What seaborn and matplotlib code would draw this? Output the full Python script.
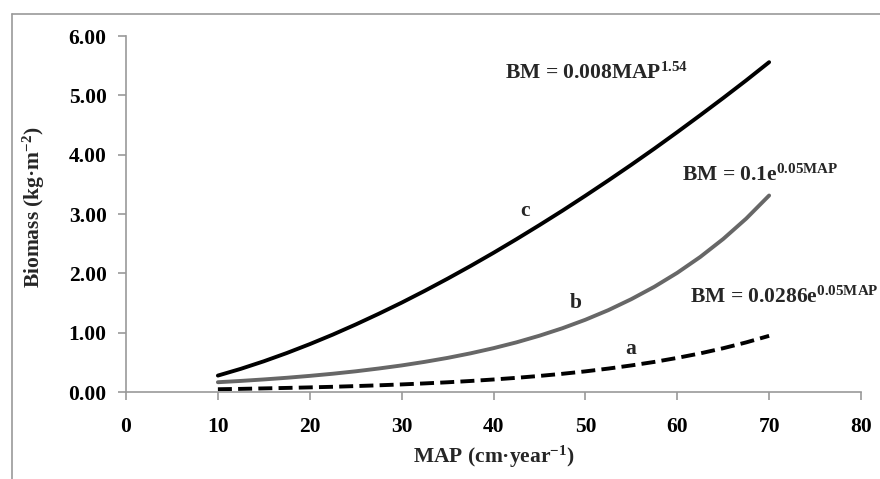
import matplotlib
matplotlib.use("Agg")
import matplotlib.pyplot as plt
import seaborn as sns
import pandas as pd
from matplotlib.lines import Line2D

sns.set_theme(style="white")
plt.rcParams['font.family'] = ['Liberation Serif', 'DejaVu Serif']
plt.rcParams['font.weight'] = 'bold'
plt.rcParams['mathtext.fontset'] = 'custom'
plt.rcParams['mathtext.rm'] = 'Liberation Serif:bold'
plt.rcParams['mathtext.bf'] = 'Liberation Serif:bold'
plt.rcParams['mathtext.it'] = 'Liberation Serif:bold'
plt.rcParams['mathtext.default'] = 'bf'

# Data (MAP in cm/year, biomass in kg/m2)
map_values = [10, 12.5, 15, 17.5, 20, 22.5, 25, 27.5, 30, 32.5, 35, 37.5, 40,
              42.5, 45, 47.5, 50, 52.5, 55, 57.5, 60, 62.5, 65, 67.5, 70]
curve_c = [0.277, 0.391, 0.518, 0.657, 0.807, 0.967, 1.138, 1.318, 1.506, 1.704,
           1.910, 2.124, 2.346, 2.576, 2.813, 3.056, 3.308, 3.566, 3.830, 4.101,
           4.380, 4.665, 4.955, 5.252, 5.559]
curve_b = [0.165, 0.187, 0.212, 0.240, 0.272, 0.308, 0.349, 0.396, 0.448, 0.508,
           0.575, 0.652, 0.739, 0.837, 0.949, 1.075, 1.218, 1.380, 1.565, 1.773,
           2.009, 2.276, 2.579, 2.922, 3.312]
curve_a = [0.047, 0.053, 0.061, 0.069, 0.078, 0.088, 0.100, 0.113, 0.128, 0.145,
           0.164, 0.186, 0.211, 0.239, 0.271, 0.307, 0.348, 0.395, 0.448, 0.507,
           0.575, 0.651, 0.738, 0.836, 0.947]
x_ticks = [0, 10, 20, 30, 40, 50, 60, 70, 80]
y_ticks = [0, 1, 2, 3, 4, 5, 6]

df = pd.DataFrame({"MAP": map_values, "c": curve_c, "b": curve_b, "a": curve_a})

FS = 15.5

fig = plt.figure(figsize=(8.8, 4.79), dpi=100)
ax = fig.add_axes([0.1432, 0.1816, 0.8352, 0.7432])

sns.lineplot(data=df, x="MAP", y="c", ax=ax, color="black", linewidth=2.8,
             solid_capstyle='round', solid_joinstyle='round')
sns.lineplot(data=df, x="MAP", y="b", ax=ax, color="#676767", linewidth=2.8,
             solid_capstyle='round', solid_joinstyle='round')
sns.lineplot(data=df, x="MAP", y="a", ax=ax, color="black", linewidth=2.8,
             linestyle=(0, (3.6, 1.6)))

ax.set_xlim(0, 80)
ax.set_ylim(0, 6)
ax.set_xticks(x_ticks)
ax.set_yticks(y_ticks)
ax.set_xticklabels([str(v) for v in x_ticks])
ax.set_yticklabels([f"{v:.2f}" for v in y_ticks])
ax.tick_params(axis='both', labelsize=FS, colors="#999999", labelcolor="black",
               direction='out', length=6, width=1.2, bottom=True, left=True)
ax.tick_params(axis='y', pad=8)
ax.tick_params(axis='x', pad=12)
for lbl in ax.get_xticklabels() + ax.get_yticklabels():
    lbl.set_fontweight('bold')

for side in ['top', 'right']:
    ax.spines[side].set_visible(False)
for side in ['left', 'bottom']:
    ax.spines[side].set_color("#999999")
    ax.spines[side].set_linewidth(1.2)

ax.set_xlabel(r"MAP (cm·year$^{-1}$)", fontsize=FS, fontweight='bold')
ax.set_ylabel(r"Biomass (kg·m$^{-2}$)", fontsize=FS, fontweight='bold')
ax.xaxis.set_label_coords(0.5, -0.146)
ax.yaxis.set_label_coords(-0.108, 0.52)

ax.text(41.25, 5.38, r"BM = 0.008MAP$^{1.54}$", fontsize=FS, fontweight='bold', va='center', ha='left')
ax.text(60.5, 3.66, r"BM = 0.1e$^{0.05MAP}$", fontsize=FS, fontweight='bold', va='center', ha='left')
ax.text(61.4, 1.60, r"BM = 0.0286e$^{0.05MAP}$", fontsize=FS, fontweight='bold', va='center', ha='left',
        clip_on=False)
ax.text(43.4, 3.05, "c", fontsize=FS, fontweight='bold', va='center', ha='center')
ax.text(48.9, 1.50, "b", fontsize=FS, fontweight='bold', va='center', ha='center')
ax.text(54.9, 0.72, "a", fontsize=FS, fontweight='bold', va='center', ha='center')

# outer chart frame (cut by the image edges)
fx = 11.5 / 880
fy = 1 - 14 / 479
fig.add_artist(Line2D([fx, fx], [0, fy], transform=fig.transFigure, color="#999999", linewidth=1.2))
fig.add_artist(Line2D([fx, 1.0], [fy, fy], transform=fig.transFigure, color="#999999", linewidth=1.2))

fig.savefig("out.png", dpi=100)
